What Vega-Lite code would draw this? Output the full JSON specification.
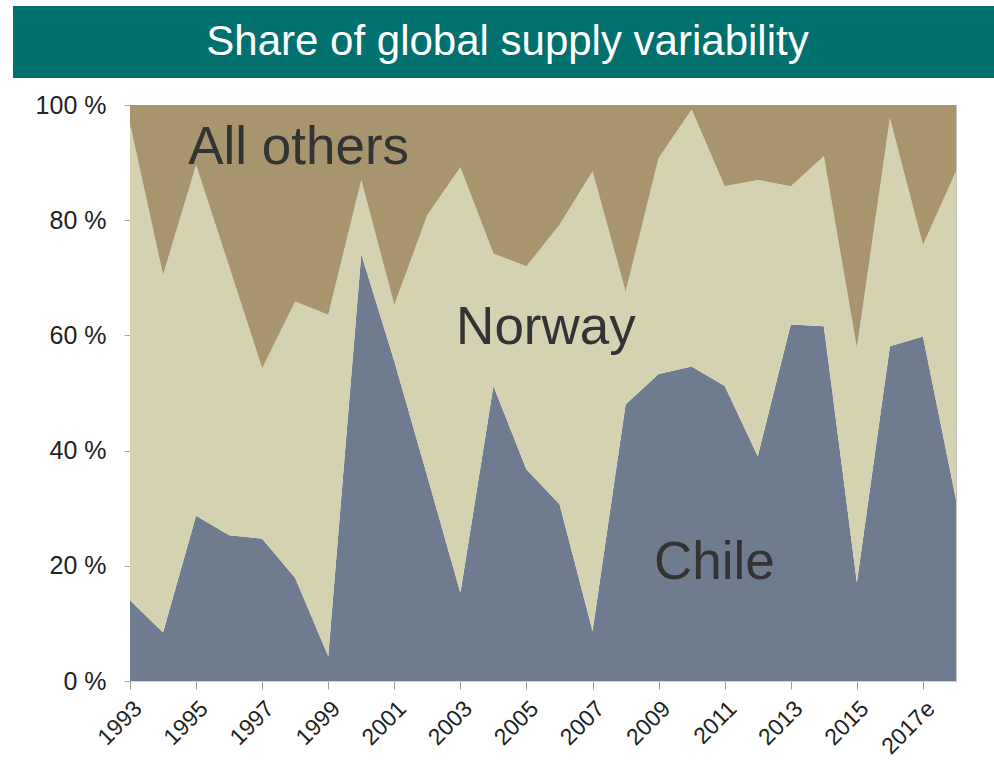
{
  "$schema": "https://vega.github.io/schema/vega-lite/v6.json",
  "padding": {"left": 12, "top": 6, "right": 0, "bottom": 0},
  "background": "white",
  "spacing": 14,
  "config": {"font": "Liberation Sans", "view": {"stroke": null}},
  "vconcat": [
    {
      "width": 865,
      "height": 72,
      "view": {"fill": "#00716E", "stroke": null},
      "data": {"values": [{"title": "Share of global supply variability"}]},
      "mark": {"type": "text", "color": "white", "fontSize": 42, "font": "Liberation Sans", "dx": -55},
      "encoding": {
        "y": {
          "field": "title", "type": "nominal",
          "axis": {"labels": false, "ticks": false, "grid": false, "title": null, "domain": true, "domainColor": "#00716E", "domainWidth": 234, "domainCap": "butt", "translate": 0, "minExtent": 0, "maxExtent": 117}
        },
        "text": {"field": "title", "type": "nominal"}
      }
    },
    {
      "width": 826,
      "height": 576,
      "view": {"stroke": "#c4c4c4"},
      "layer": [
        {
          "data": {"values": [
            {"year": 1993, "region": "Chile", "rank": 1, "share": 14.0}, {"year": 1993, "region": "Norway", "rank": 2, "share": 82.8}, {"year": 1993, "region": "All others", "rank": 3, "share": 3.2},
            {"year": 1994, "region": "Chile", "rank": 1, "share": 8.4}, {"year": 1994, "region": "Norway", "rank": 2, "share": 62.1}, {"year": 1994, "region": "All others", "rank": 3, "share": 29.5},
            {"year": 1995, "region": "Chile", "rank": 1, "share": 28.7}, {"year": 1995, "region": "Norway", "rank": 2, "share": 60.9}, {"year": 1995, "region": "All others", "rank": 3, "share": 10.4},
            {"year": 1996, "region": "Chile", "rank": 1, "share": 25.3}, {"year": 1996, "region": "Norway", "rank": 2, "share": 46.7}, {"year": 1996, "region": "All others", "rank": 3, "share": 28.0},
            {"year": 1997, "region": "Chile", "rank": 1, "share": 24.7}, {"year": 1997, "region": "Norway", "rank": 2, "share": 29.6}, {"year": 1997, "region": "All others", "rank": 3, "share": 45.7},
            {"year": 1998, "region": "Chile", "rank": 1, "share": 17.9}, {"year": 1998, "region": "Norway", "rank": 2, "share": 48.0}, {"year": 1998, "region": "All others", "rank": 3, "share": 34.1},
            {"year": 1999, "region": "Chile", "rank": 1, "share": 4.3}, {"year": 1999, "region": "Norway", "rank": 2, "share": 59.3}, {"year": 1999, "region": "All others", "rank": 3, "share": 36.4},
            {"year": 2000, "region": "Chile", "rank": 1, "share": 74.1}, {"year": 2000, "region": "Norway", "rank": 2, "share": 12.9}, {"year": 2000, "region": "All others", "rank": 3, "share": 13.0},
            {"year": 2001, "region": "Chile", "rank": 1, "share": 55.5}, {"year": 2001, "region": "Norway", "rank": 2, "share": 9.8}, {"year": 2001, "region": "All others", "rank": 3, "share": 34.7},
            {"year": 2002, "region": "Chile", "rank": 1, "share": 35.5}, {"year": 2002, "region": "Norway", "rank": 2, "share": 45.4}, {"year": 2002, "region": "All others", "rank": 3, "share": 19.1},
            {"year": 2003, "region": "Chile", "rank": 1, "share": 15.3}, {"year": 2003, "region": "Norway", "rank": 2, "share": 73.9}, {"year": 2003, "region": "All others", "rank": 3, "share": 10.8},
            {"year": 2004, "region": "Chile", "rank": 1, "share": 51.2}, {"year": 2004, "region": "Norway", "rank": 2, "share": 23.0}, {"year": 2004, "region": "All others", "rank": 3, "share": 25.8},
            {"year": 2005, "region": "Chile", "rank": 1, "share": 36.7}, {"year": 2005, "region": "Norway", "rank": 2, "share": 35.3}, {"year": 2005, "region": "All others", "rank": 3, "share": 28.0},
            {"year": 2006, "region": "Chile", "rank": 1, "share": 30.7}, {"year": 2006, "region": "Norway", "rank": 2, "share": 48.5}, {"year": 2006, "region": "All others", "rank": 3, "share": 20.8},
            {"year": 2007, "region": "Chile", "rank": 1, "share": 8.7}, {"year": 2007, "region": "Norway", "rank": 2, "share": 79.8}, {"year": 2007, "region": "All others", "rank": 3, "share": 11.5},
            {"year": 2008, "region": "Chile", "rank": 1, "share": 48.0}, {"year": 2008, "region": "Norway", "rank": 2, "share": 19.6}, {"year": 2008, "region": "All others", "rank": 3, "share": 32.4},
            {"year": 2009, "region": "Chile", "rank": 1, "share": 53.3}, {"year": 2009, "region": "Norway", "rank": 2, "share": 37.5}, {"year": 2009, "region": "All others", "rank": 3, "share": 9.2},
            {"year": 2010, "region": "Chile", "rank": 1, "share": 54.6}, {"year": 2010, "region": "Norway", "rank": 2, "share": 44.6}, {"year": 2010, "region": "All others", "rank": 3, "share": 0.8},
            {"year": 2011, "region": "Chile", "rank": 1, "share": 51.2}, {"year": 2011, "region": "Norway", "rank": 2, "share": 34.7}, {"year": 2011, "region": "All others", "rank": 3, "share": 14.1},
            {"year": 2012, "region": "Chile", "rank": 1, "share": 39.0}, {"year": 2012, "region": "Norway", "rank": 2, "share": 48.0}, {"year": 2012, "region": "All others", "rank": 3, "share": 13.0},
            {"year": 2013, "region": "Chile", "rank": 1, "share": 61.9}, {"year": 2013, "region": "Norway", "rank": 2, "share": 24.0}, {"year": 2013, "region": "All others", "rank": 3, "share": 14.1},
            {"year": 2014, "region": "Chile", "rank": 1, "share": 61.6}, {"year": 2014, "region": "Norway", "rank": 2, "share": 29.5}, {"year": 2014, "region": "All others", "rank": 3, "share": 8.9},
            {"year": 2015, "region": "Chile", "rank": 1, "share": 17.1}, {"year": 2015, "region": "Norway", "rank": 2, "share": 40.7}, {"year": 2015, "region": "All others", "rank": 3, "share": 42.2},
            {"year": 2016, "region": "Chile", "rank": 1, "share": 58.1}, {"year": 2016, "region": "Norway", "rank": 2, "share": 39.6}, {"year": 2016, "region": "All others", "rank": 3, "share": 2.3},
            {"year": 2017, "region": "Chile", "rank": 1, "share": 59.8}, {"year": 2017, "region": "Norway", "rank": 2, "share": 15.9}, {"year": 2017, "region": "All others", "rank": 3, "share": 24.3},
            {"year": 2018, "region": "Chile", "rank": 1, "share": 31.5}, {"year": 2018, "region": "Norway", "rank": 2, "share": 57.0}, {"year": 2018, "region": "All others", "rank": 3, "share": 11.5}
          ]},
          "mark": {"type": "area", "line": false},
          "encoding": {
            "x": {
              "field": "year", "type": "quantitative",
              "scale": {"domain": [1993, 2018], "nice": false, "zero": false},
              "axis": {
                "values": [1993, 1994, 1995, 1996, 1997, 1998, 1999, 2000, 2001, 2002, 2003, 2004, 2005, 2006, 2007, 2008, 2009, 2010, 2011, 2012, 2013, 2014, 2015, 2016, 2017, 2018],
                "labelExpr": "datum.value % 2 == 1 ? (datum.value >= 2017 ? datum.value + 'e' : '' + datum.value) : ''",
                "labelAngle": -45, "labelAlign": "right", "labelBaseline": "top",
                "labelFontSize": 23, "labelColor": "#222222", "labelFont": "Liberation Sans",
                "labelPadding": 8, "labelOverlap": false, "labelFlush": false,
                "tickColor": "#9a9a9a", "tickSize": 8, "domainColor": "#c9d0da",
                "grid": false, "title": null
              }
            },
            "y": {
              "field": "share", "type": "quantitative", "stack": "zero",
              "scale": {"domain": [0, 100], "nice": false},
              "axis": {
                "values": [0, 20, 40, 60, 80, 100],
                "labelExpr": "datum.value + ' %'",
                "labelFontSize": 25, "labelColor": "#222222", "labelFont": "Liberation Sans",
                "labelPadding": 18, "tickColor": "#aaaaaa", "tickSize": 6,
                "domainColor": "#9a9a9a", "grid": false, "title": null,
                "minExtent": 117, "maxExtent": 117
              }
            },
            "color": {
              "field": "region", "type": "nominal",
              "scale": {"domain": ["Chile", "Norway", "All others"], "range": ["#6F7B8E", "#D5D2B1", "#A8956D"]},
              "legend": null
            },
            "order": {"field": "rank", "type": "quantitative", "sort": "ascending"}
          }
        },
        {
          "data": {"values": [
            {"label": "All others", "lx": 1994.76, "ly": 89.8},
            {"label": "Norway", "lx": 2002.87, "ly": 58.5},
            {"label": "Chile", "lx": 2008.86, "ly": 17.7}
          ]},
          "mark": {"type": "text", "align": "left", "baseline": "alphabetic", "fontSize": 53, "color": "#333333", "font": "Liberation Sans"},
          "encoding": {
            "x": {"field": "lx", "type": "quantitative"},
            "y": {"field": "ly", "type": "quantitative"},
            "text": {"field": "label", "type": "nominal"}
          }
        }
      ]
    }
  ]
}
